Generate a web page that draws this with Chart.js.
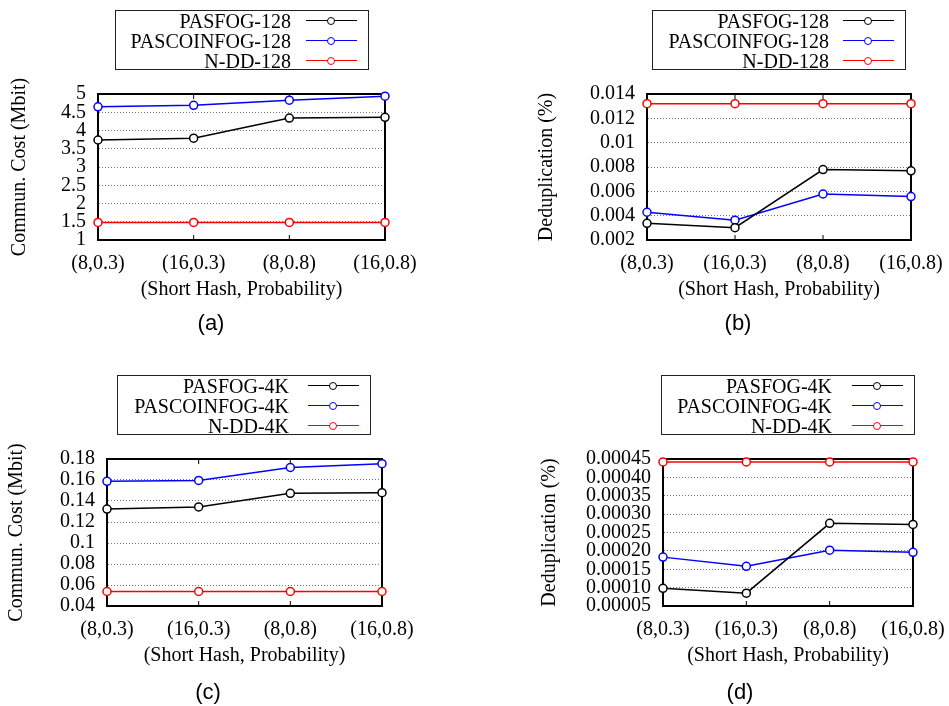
<!DOCTYPE html>
<html>
<head>
<meta charset="utf-8">
<script src="https://cdn.jsdelivr.net/npm/chart.js@4/dist/chart.umd.min.js"></script>
<style>
    html, body { margin: 0; padding: 0; background: #fff; }
    #page { position: relative; width: 949px; height: 706px; overflow: hidden; }
    canvas { position: absolute; }
    .legend { position: absolute; border: 1px solid #222; box-sizing: border-box; background: #fff; z-index: 2; }
    .legend-text { position: absolute; font: 20px "Liberation Serif", "DejaVu Serif", "Times New Roman", serif; line-height: 20px; white-space: nowrap; color: #000; text-align: right; }
    .legend-line { position: absolute; height: 0; border-top: 1.5px solid; }
    .legend-dot { position: absolute; width: 6px; height: 6px; border: 1.5px solid; border-radius: 50%; background: #fff; }
    .caption { position: absolute; font: 22px "Liberation Sans", sans-serif; line-height: 24px; transform: translateX(-50%); z-index: 2; }
</style>
</head>
<body>
<div id="page"></div>
<script>
// --- DADOS ---
const categories = ['(8,0.3)', '(16,0.3)', '(8,0.8)', '(16,0.8)'];

const pasfog128Cost = [3.74, 3.79, 4.34, 4.36];
const pascoin128Cost = [4.65, 4.69, 4.83, 4.94];
const ndd128Cost = [1.48, 1.48, 1.48, 1.48];

const pasfog128Dedup = [0.00337, 0.00301, 0.00779, 0.00769];
const pascoin128Dedup = [0.00428, 0.00363, 0.00578, 0.00557];
const ndd128Dedup = [0.0132, 0.0132, 0.0132, 0.0132];

const pasfog4kCost = [0.1323, 0.1344, 0.1473, 0.1479];
const pascoin4kCost = [0.1587, 0.1596, 0.1719, 0.1755];
const ndd4kCost = [0.0538, 0.0538, 0.0538, 0.0538];

const pasfog4kDedup = [0.000098, 0.000085, 0.000275, 0.000272];
const pascoin4kDedup = [0.000183, 0.000158, 0.000202, 0.000196];
const ndd4kDedup = [0.000442, 0.000442, 0.000442, 0.000442];

const costTicks128 = ['1', '1.5', '2', '2.5', '3', '3.5', '4', '4.5', '5'];
const dedupTicks128 = ['0.002', '0.004', '0.006', '0.008', '0.01', '0.012', '0.014'];
const costTicks4k = ['0.04', '0.06', '0.08', '0.1', '0.12', '0.14', '0.16', '0.18'];
const dedupTicks4k = ['0.00005', '0.00010', '0.00015', '0.00020', '0.00025', '0.00030', '0.00035', '0.00040', '0.00045'];

const labels128 = ['PASFOG-128', 'PASCOINFOG-128', 'N-DD-128'];
const labels4k = ['PASFOG-4K', 'PASCOINFOG-4K', 'N-DD-4K'];
const seriesColors = ['#000000', '#0000ff', '#ff0000'];

const xTitle = '(Short Hash, Probability)';
const costTitle = 'Commun. Cost (Mbit)';
const dedupTitle = 'Deduplication (%)';

// --- GEOMETRIA DOS PAINÉIS ---
const SERIF = '"Liberation Serif", "DejaVu Serif", "Times New Roman", serif';
const FONT_SIZE = 20;
const LINE_H = FONT_SIZE * 1.2;
const X_AXIS_H = 62;

const panels = [
    { caption: '(a)', capX: 211, capY: 323, canvas: [0, 70, 440, 290], plot: [98, 85, 385, 240], yTitleX: 20,
      yTitle: costTitle, ticks: costTicks128, names: labels128, series: [pasfog128Cost, pascoin128Cost, ndd128Cost],
      legend: { left: 115, top: 10, textRight: 177 } },
    { caption: '(b)', capX: 738, capY: 323, canvas: [490, 70, 459, 290], plot: [647, 85, 911, 240], yTitleX: 547,
      yTitle: dedupTitle, ticks: dedupTicks128, names: labels128, series: [pasfog128Dedup, pascoin128Dedup, ndd128Dedup],
      legend: { left: 652, top: 10, textRight: 178 } },
    { caption: '(c)', capX: 208, capY: 692, canvas: [0, 435, 440, 271], plot: [107, 450, 382, 606], yTitleX: 17,
      yTitle: costTitle, ticks: costTicks4k, names: labels4k, series: [pasfog4kCost, pascoin4kCost, ndd4kCost],
      legend: { left: 117, top: 375, textRight: 173 } },
    { caption: '(d)', capX: 740, capY: 692, canvas: [490, 435, 459, 271], plot: [663, 450, 913, 606], yTitleX: 550,
      yTitle: dedupTitle, ticks: dedupTicks4k, names: labels4k, series: [pasfog4kDedup, pascoin4kDedup, ndd4kDedup],
      legend: { left: 661, top: 375, textRight: 172 } },
];

// moldura preta + marcas de tick internas (estilo gnuplot)
const framePlugin = {
    id: 'frame',
    beforeDatasetsDraw(chart) {
        const { ctx, chartArea: a, scales } = chart;
        ctx.save();
        ctx.strokeStyle = '#000';
        ctx.lineWidth = 1;
        ctx.beginPath();
        scales.x.ticks.forEach((t, i) => {
            const x = scales.x.getPixelForTick(i);
            ctx.moveTo(x, a.bottom); ctx.lineTo(x, a.bottom - 5);
            ctx.moveTo(x, a.top); ctx.lineTo(x, a.top + 5);
        });
        ctx.stroke();
        ctx.lineWidth = 2;
        ctx.strokeRect(a.left, a.top, a.right - a.left, a.bottom - a.top);
        ctx.restore();
    }
};

const page = document.getElementById('page');

const buildLegend = (p) => {
    const box = document.createElement('div');
    box.className = 'legend';
    Object.assign(box.style, { left: p.legend.left + 'px', top: p.legend.top + 'px', width: '254px', height: '60px' });
    p.names.forEach((name, i) => {
        const cy = 10 + i * 20;
        const txt = document.createElement('div');
        txt.className = 'legend-text';
        txt.textContent = name;
        Object.assign(txt.style, { right: (254 - p.legend.textRight) + 'px', top: (cy - 10) + 'px' });
        const line = document.createElement('div');
        line.className = 'legend-line';
        Object.assign(line.style, { left: '190px', width: '51px', top: (cy - 1) + 'px', borderColor: seriesColors[i] });
        const dot = document.createElement('div');
        dot.className = 'legend-dot';
        Object.assign(dot.style, { left: (215 - 4.5) + 'px', top: (cy - 4.5) + 'px', borderColor: seriesColors[i] });
        box.append(txt, line, dot);
    });
    page.appendChild(box);
};

const buildChart = (p) => {
    const [cx, cy, cw, ch] = p.canvas;
    const [pl, pt, pr, pb] = p.plot;
    const scaleLeft = p.yTitleX - LINE_H / 2;
    const yW = pl - scaleLeft;

    const canvas = document.createElement('canvas');
    canvas.width = cw;
    canvas.height = ch;
    Object.assign(canvas.style, { left: cx + 'px', top: cy + 'px', width: cw + 'px', height: ch + 'px' });
    page.appendChild(canvas);

    const tickValues = p.ticks.map(Number);
    const font = { family: SERIF, size: FONT_SIZE };

    new Chart(canvas.getContext('2d'), {
        type: 'line',
        data: {
            labels: categories,
            datasets: p.series.map((data, i) => ({
                label: p.names[i],
                data,
                borderColor: seriesColors[i],
                pointBorderColor: seriesColors[i],
                pointBackgroundColor: '#fff',
                borderWidth: 1.5,
                pointRadius: 4,
                pointBorderWidth: 1.5,
                tension: 0,
                clip: false,
            })),
        },
        options: {
            responsive: false,
            animation: false,
            devicePixelRatio: 1,
            layout: { padding: { left: scaleLeft - cx, top: pt - cy, right: cx + cw - pr, bottom: cy + ch - pb - X_AXIS_H } },
            plugins: { legend: { display: false }, tooltip: { enabled: false } },
            scales: {
                x: {
                    type: 'category',
                    offset: false,
                    grid: { display: false },
                    border: { display: true, color: '#000', width: 2 },
                    ticks: { font, color: '#000', padding: 4, maxRotation: 0, autoSkip: false },
                    title: { display: true, text: xTitle, font, color: '#000', padding: { top: 0, bottom: 0 } },
                    afterFit: (s) => { s.height = X_AXIS_H; },
                },
                y: {
                    min: tickValues[0],
                    max: tickValues[tickValues.length - 1],
                    afterBuildTicks: (s) => { s.ticks = tickValues.map(v => ({ value: v })); },
                    grid: { color: '#777', lineWidth: 1, drawTicks: false },
                    border: { display: true, color: '#000', width: 2, dash: [1, 2] },
                    ticks: { font, color: '#000', padding: 12, autoSkip: false, callback: (v, i) => p.ticks[i] },
                    title: { display: true, text: p.yTitle, font, color: '#000', padding: { top: 0, bottom: 0 } },
                    afterFit: (s) => { s.width = yW; },
                },
            },
        },
        plugins: [framePlugin],
    });

    const cap = document.createElement('div');
    cap.className = 'caption';
    cap.textContent = p.caption;
    Object.assign(cap.style, { left: p.capX + 'px', top: (p.capY - 12) + 'px' });
    page.appendChild(cap);
};

panels.forEach(p => {
    buildChart(p);
    buildLegend(p);
});
</script>
</body>
</html>
